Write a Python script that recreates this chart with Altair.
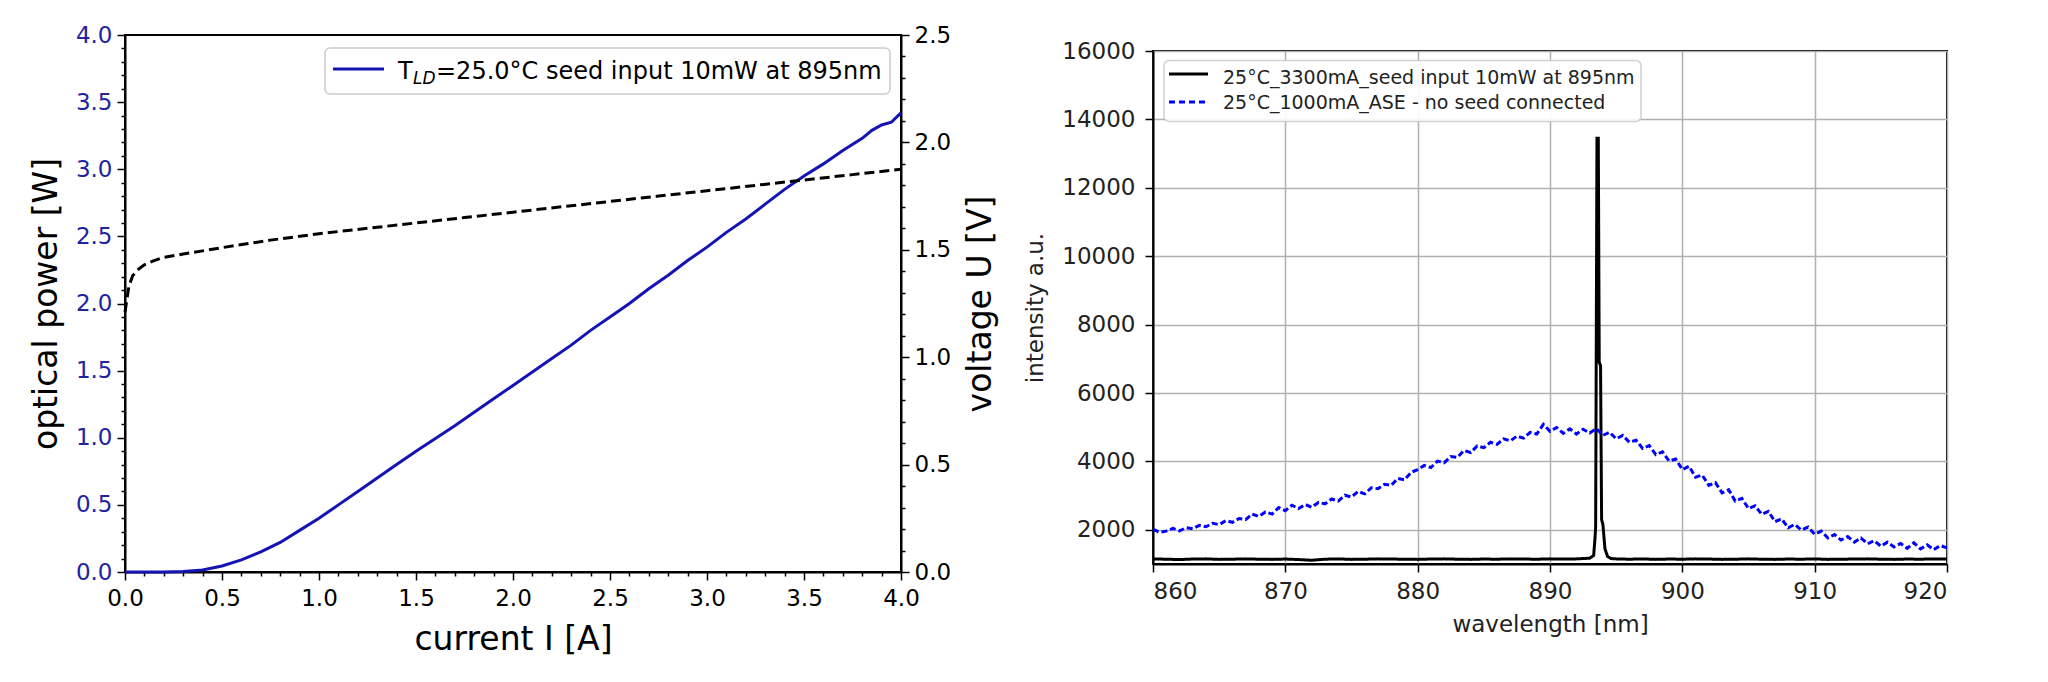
import altair as alt
import pandas as pd

# ---------------- left panel data ----------------
current_A = [0.0, 0.1, 0.2, 0.3, 0.4, 0.5, 0.6, 0.7, 0.8, 0.9, 1.0, 1.1, 1.2, 1.3, 1.4,
             1.5, 1.6, 1.7, 1.8, 1.9, 2.0, 2.1, 2.2, 2.3, 2.4, 2.5, 2.6, 2.7, 2.8, 2.9,
             3.0, 3.1, 3.2, 3.3, 3.4, 3.5, 3.6, 3.7, 3.8, 3.85, 3.9, 3.95, 4.0]
power_W = [0.0, 0.0, 0.0, 0.003, 0.015, 0.045, 0.09, 0.15, 0.22, 0.31, 0.40, 0.50, 0.60,
           0.70, 0.80, 0.90, 0.995, 1.09, 1.19, 1.29, 1.39, 1.49, 1.59, 1.69, 1.80, 1.90,
           2.00, 2.11, 2.21, 2.32, 2.42, 2.53, 2.63, 2.74, 2.85, 2.95, 3.04, 3.14, 3.23,
           3.29, 3.33, 3.35, 3.42]

volt_current_A = [0.0, 0.02, 0.04, 0.07, 0.1, 0.15, 0.2, 0.3, 0.4, 0.5, 0.75, 1.0, 1.25,
                  1.5, 1.75, 2.0, 2.25, 2.5, 2.75, 3.0, 3.25, 3.5, 3.75, 4.0]
voltage_V = [1.21, 1.33, 1.38, 1.41, 1.43, 1.45, 1.465, 1.48, 1.495, 1.51, 1.545, 1.575,
             1.60, 1.625, 1.65, 1.675, 1.70, 1.725, 1.75, 1.775, 1.80, 1.825, 1.85, 1.875]

LEGEND_LEFT_T = "T"
LEGEND_LEFT_SUB = "LD"
LEGEND_LEFT_REST = "=25.0°C seed input 10mW at 895nm"

# ---------------- right panel data ----------------
SERIES_SEED = "25°C_3300mA_seed input 10mW at 895nm"
SERIES_ASE = "25°C_1000mA_ASE - no seed connected"

wl_seed = [860, 861, 862, 863, 864, 865, 866, 867, 868, 869, 870, 871, 872, 873, 874, 875,
           876, 877, 878, 879, 880, 881, 882, 883, 884, 885, 886, 887, 888, 889, 890, 891,
           892, 893.0, 893.3, 893.4, 893.45, 893.55, 893.65, 893.72, 893.82, 893.9, 894.0,
           894.15, 894.35, 894.6, 895, 896, 897, 898, 899, 900, 901, 902, 903, 904, 905,
           906, 907, 908, 909, 910, 911, 912, 913, 914, 915, 916, 917, 918, 919, 920]
int_seed = [1150, 1140, 1130, 1145, 1150, 1135, 1140, 1150, 1140, 1135, 1145, 1130, 1110,
            1140, 1150, 1135, 1140, 1150, 1145, 1140, 1135, 1145, 1150, 1140, 1135, 1145,
            1140, 1150, 1145, 1140, 1150, 1145, 1150, 1170, 1250, 1750, 2100, 13450, 13450,
            6900, 6800, 2300, 2150, 1450, 1220, 1160, 1150, 1140, 1150, 1135, 1145, 1140,
            1150, 1145, 1135, 1140, 1150, 1140, 1135, 1145, 1140, 1150, 1135, 1140, 1145,
            1150, 1140, 1135, 1145, 1140, 1150, 1145]

wl_ase = [860.0 + 0.5 * i for i in range(121)]
int_ase = [
    2010, 1930, 1960, 2040, 1970, 2060, 2030, 2130, 2090, 2190,   # 860.0 - 864.5
    2150, 2270, 2220, 2330, 2300, 2460, 2390, 2520, 2460, 2650,   # 865.0 - 869.5
    2560, 2720, 2620, 2740, 2660, 2800, 2760, 2900, 2840, 3010,   # 870.0 - 874.5
    2960, 3120, 3050, 3230, 3200, 3330, 3300, 3500, 3460, 3680,   # 875.0 - 879.5
    3760, 3880, 3820, 4010, 3960, 4140, 4120, 4320, 4260, 4450,   # 880.0 - 884.5
    4400, 4560, 4500, 4660, 4600, 4740, 4680, 4850, 4800, 5080,   # 885.0 - 889.5
    4880, 4990, 4820, 4950, 4800, 4940, 4830, 4960, 4760, 4850,   # 890.0 - 894.5
    4660, 4760, 4560, 4620, 4380, 4460, 4200, 4280, 4010, 4070,   # 895.0 - 899.5
    3760, 3860, 3540, 3600, 3300, 3380, 3080, 3170, 2840, 2920,   # 900.0 - 904.5
    2620, 2700, 2450, 2540, 2240, 2320, 2060, 2160, 1990, 2080,   # 905.0 - 909.5
    1870, 1960, 1760, 1860, 1700, 1800, 1640, 1760, 1590, 1680,   # 910.0 - 914.5
    1520, 1640, 1500, 1600, 1460, 1620, 1440, 1560, 1420, 1540,   # 915.0 - 919.5
    1470,                                                         # 920.0
]

# ---------------- styling ----------------
FONT = "DejaVu Sans"
BLUE = "#1414b4"
LABEL_BLUE = "#2323a0"
ASE_BLUE = "#0000ff"
RGRAY = "#222222"

df_power = pd.DataFrame({"current": current_A, "power": power_W})
df_volt = pd.DataFrame({"current": volt_current_A, "voltage": voltage_V})
one = pd.DataFrame({"k": [0]})

MAJOR = "round(datum.value*10) % 5 == 0"
LABEL_EXPR = f"({MAJOR}) ? format(datum.value, '.1f') : ''"
TICK_SIZE = {"condition": {"test": MAJOR, "value": 8}, "value": 4}


def minor_axis(values, **kw):
    base = dict(values=values, labelExpr=LABEL_EXPR, tickSize=TICK_SIZE,
                labelOverlap=False, labelFlush=False, grid=False,
                labelFont=FONT, labelFontSize=23, titleFont=FONT, titleFontSize=33,
                titleFontWeight="normal", titleColor="black", tickColor="black",
                tickWidth=1.5, domainColor="black", domainWidth=2, labelPadding=5)
    base.update(kw)
    return alt.Axis(**base)


x_vals = [round(i * 0.1, 1) for i in range(41)]
yp_vals = [round(i * 0.1, 1) for i in range(41)]
yv_vals = [round(i * 0.1, 1) for i in range(26)]

x_enc = alt.X("current:Q", scale=alt.Scale(domain=[0, 4], nice=False),
              axis=minor_axis(x_vals, title="current I [A]", labelColor="black",
                              labelPadding=7, titlePadding=13))

power_line = alt.Chart(df_power).mark_line(color=BLUE, strokeWidth=3).encode(
    x=x_enc,
    y=alt.Y("power:Q", scale=alt.Scale(domain=[0, 4], nice=False),
            axis=minor_axis(yp_vals, title="optical power [W]", labelColor=LABEL_BLUE,
                            titlePadding=12)),
)

volt_line = alt.Chart(df_volt).mark_line(color="black", strokeWidth=3,
                                         strokeDash=[10, 5]).encode(
    x=x_enc,
    y=alt.Y("voltage:Q", scale=alt.Scale(domain=[0, 2.5], nice=False),
            axis=minor_axis(yv_vals, orient="right", title="voltage U [V]",
                            labelColor="black", titlePadding=14, titleAngle=270,
                            titleBaseline="top")),
)

leg_box = alt.Chart(one).mark_rect(fill="white", stroke="#cccccc", strokeWidth=1.5,
                                   cornerRadius=5).encode(
    x=alt.value(200), x2=alt.value(765), y=alt.value(13), y2=alt.value(59))
leg_line = alt.Chart(one).mark_rule(color=BLUE, strokeWidth=3).encode(
    x=alt.value(208), x2=alt.value(259), y=alt.value(34))
leg_t = alt.Chart(one).mark_text(text=LEGEND_LEFT_T, align="left", baseline="alphabetic",
                                 font=FONT, fontSize=24, color="black").encode(
    x=alt.value(273), y=alt.value(44))
leg_sub = alt.Chart(one).mark_text(text=LEGEND_LEFT_SUB, align="left", baseline="alphabetic",
                                   font=FONT, fontSize=17, fontStyle="italic",
                                   color="black").encode(x=alt.value(288), y=alt.value(49))
leg_rest = alt.Chart(one).mark_text(text=LEGEND_LEFT_REST, align="left",
                                    baseline="alphabetic", font=FONT, fontSize=24,
                                    color="black").encode(x=alt.value(311), y=alt.value(44))

left = alt.layer(power_line, volt_line, leg_box, leg_line, leg_t, leg_sub,
                 leg_rest).resolve_scale(y="independent").properties(width=776, height=537)

# ---------------- right panel ----------------
df_right = pd.concat([
    pd.DataFrame({"wl": wl_seed, "intensity": int_seed, "series": SERIES_SEED}),
    pd.DataFrame({"wl": wl_ase, "intensity": int_ase, "series": SERIES_ASE}),
], ignore_index=True)

right_lines = alt.Chart(df_right).mark_line(strokeWidth=3).encode(
    x=alt.X("wl:Q", scale=alt.Scale(domain=[860, 920], nice=False, zero=False),
            axis=alt.Axis(values=list(range(860, 921, 10)), grid=True, gridColor="#b0b0b0",
                          gridWidth=1.5, tickSize=8, tickColor="black", tickWidth=1.5,
                          domainColor="black", domainWidth=2, labelFont=FONT,
                          labelFontSize=23, labelColor=RGRAY, labelPadding=8,
                          title="wavelength [nm]", titleFont=FONT, titleFontSize=23,
                          titleFontWeight="normal", titleColor=RGRAY, titlePadding=10)),
    y=alt.Y("intensity:Q", scale=alt.Scale(domain=[1000, 16000], nice=False, zero=False),
            axis=alt.Axis(values=list(range(2000, 16001, 2000)), format="d", grid=True,
                          gridColor="#b0b0b0", gridWidth=1.5, tickSize=8,
                          tickColor="black", tickWidth=1.5, domainColor="black",
                          domainWidth=2, labelFont=FONT, labelFontSize=23,
                          labelColor=RGRAY, labelPadding=10, title="intensity a.u.",
                          titleFont=FONT, titleFontSize=23, titleFontWeight="normal",
                          titleColor=RGRAY, titlePadding=14)),
    color=alt.Color("series:N", scale=alt.Scale(domain=[SERIES_SEED, SERIES_ASE],
                                                range=["black", ASE_BLUE]),
                    legend=None),
    strokeDash=alt.StrokeDash("series:N",
                              scale=alt.Scale(domain=[SERIES_SEED, SERIES_ASE],
                                              range=[[1, 0], [6, 3]]),
                              legend=None),
)

r_box = alt.Chart(one).mark_rect(fill="white", stroke="#cccccc", strokeWidth=1.5,
                                 cornerRadius=5, opacity=0.9).encode(
    x=alt.value(11), x2=alt.value(488), y=alt.value(9.5), y2=alt.value(70.5))
r_line1 = alt.Chart(one).mark_rule(color="black", strokeWidth=3).encode(
    x=alt.value(16), x2=alt.value(55), y=alt.value(23))
r_line2 = alt.Chart(one).mark_rule(color=ASE_BLUE, strokeWidth=3,
                                   strokeDash=[6, 4]).encode(
    x=alt.value(16), x2=alt.value(55), y=alt.value(51))
r_text1 = alt.Chart(one).mark_text(text=SERIES_SEED, align="left", baseline="alphabetic",
                                   font=FONT, fontSize=19, color=RGRAY).encode(
    x=alt.value(70), y=alt.value(33))
r_text2 = alt.Chart(one).mark_text(text=SERIES_ASE, align="left", baseline="alphabetic",
                                   font=FONT, fontSize=19, color=RGRAY).encode(
    x=alt.value(70), y=alt.value(58))

right = alt.layer(right_lines, r_box, r_line1, r_line2, r_text1,
                  r_text2).properties(width=794, height=513)

# blank strip that lowers the right panel relative to the left one
spacer = alt.Chart(one).mark_point(opacity=0).encode(
    x=alt.value(0), y=alt.value(0)
).properties(width=794, height=3, view=alt.ViewBackground(stroke="transparent"))

right_block = alt.vconcat(spacer, right, spacing=0)

chart = alt.hconcat(left, right_block, spacing=24).properties(
    padding={"left": 21, "top": 15, "right": 5, "bottom": 5}
).configure_view(stroke="black", strokeWidth=2)

chart.save("out.html", embed_options={"renderer": "svg", "actions": False})
